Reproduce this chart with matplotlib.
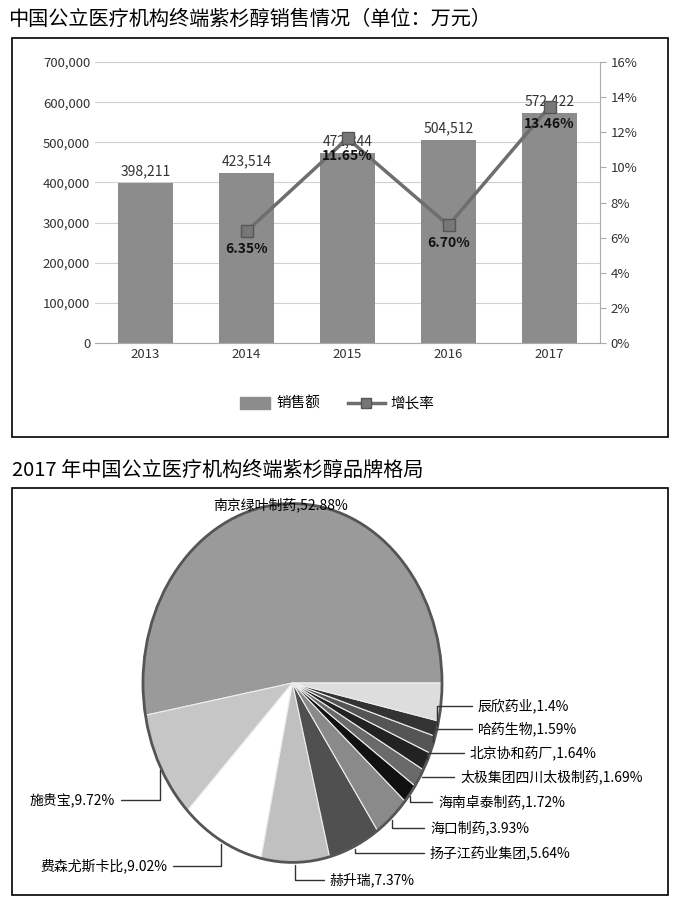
import numpy as np
import matplotlib.pyplot as plt
from matplotlib.patches import Rectangle

plt.rcParams['font.family'] = ['Noto Sans CJK SC', 'DejaVu Sans']

years = ['2013', '2014', '2015', '2016', '2017']
sales = [398211, 423514, 472844, 504512, 572422]
growth = [None, 6.35, 11.65, 6.70, 13.46]

brands = ['南京绿叶制药', '施贵宝', '费森尤斯卡比', '赫升瑞', '扬子江药业集团', '海口制药',
          '海南卓泰制药', '太极集团四川太极制药', '北京协和药厂', '哈药生物', '辰欣药业', '其他']
shares = [52.88, 9.72, 9.02, 7.37, 5.64, 3.93, 1.72, 1.69, 1.64, 1.59, 1.4, 3.4]
share_txt = ['52.88%', '9.72%', '9.02%', '7.37%', '5.64%', '3.93%', '1.72%', '1.69%', '1.64%', '1.59%', '1.4%', '']
colors = ['#9a9a9a', '#c6c6c6', '#ffffff', '#c0c0c0', '#505050', '#8a8a8a',
          '#111111', '#6a6a6a', '#222222', '#555555', '#333333', '#dddddd']

W, H = 685, 900
fig = plt.figure(figsize=(W/100, H/100), dpi=100)
fig.patch.set_facecolor('white')

def fx(px): return px / W
def fy(py): return 1 - py / H

# frames and titles
fig.add_artist(Rectangle((fx(12), fy(437)), fx(668)-fx(12), fy(38)-fy(437), transform=fig.transFigure,
                         fill=False, ec='black', lw=1.2))
fig.add_artist(Rectangle((fx(12), fy(895)), fx(668)-fx(12), fy(488)-fy(895), transform=fig.transFigure,
                         fill=False, ec='black', lw=1.2))
fig.text(fx(8), fy(19), '中国公立医疗机构终端紫杉醇销售情况（单位：万元）', fontsize=14.5, va='center')
fig.text(fx(12), fy(470), '2017 年中国公立医疗机构终端紫杉醇品牌格局', fontsize=14.5, va='center')

# bar + line chart
ax = fig.add_axes([fx(95), fy(343), fx(600)-fx(95), fy(62)-fy(343)])
x = np.arange(len(years))
ax.bar(x, sales, width=0.55, color='#8c8c8c')
ax.set_ylim(0, 700000)
ax.set_yticks(range(0, 700001, 100000))
ax.set_yticklabels(['0'] + [f'{v:,}' for v in range(100000, 700001, 100000)], fontsize=9.5, color='#333')
ax.set_xticks(x)
ax.set_xticklabels(years, fontsize=9.5, color='#333')
ax.set_xlim(-0.5, 4.5)
ax.grid(axis='y', color='#d0d0d0', lw=0.8)
ax.set_axisbelow(True)
for s in ['top', 'left', 'right']:
    ax.spines[s].set_visible(False)
ax.spines['bottom'].set_color('#aaa')
ax.tick_params(length=0)
for i, v in enumerate(sales):
    ax.text(i, v + 12000, f'{v:,}', ha='center', va='bottom', fontsize=10, color='#333')

ax2 = ax.twinx()
gx = x[1:]
gy = growth[1:]
ax2.plot(gx, gy, color='#6e6e6e', lw=2.5, marker='s', ms=8, mfc='#777', mec='#555')
ax2.set_ylim(0, 16)
ax2.set_yticks(range(0, 17, 2))
ax2.set_yticklabels([f'{v}%' for v in range(0, 17, 2)], fontsize=9.5, color='#333')
for s in ['top', 'left', 'bottom']:
    ax2.spines[s].set_visible(False)
ax2.spines['right'].set_color('#aaa')
ax2.tick_params(length=4, color='#aaa')
for xi, g in zip(gx, gy):
    ax2.text(xi, g - 0.6, f'{g:.2f}%', ha='center', va='top', fontsize=10, fontweight='bold', color='#111')

# legend
fig.add_artist(Rectangle((fx(240), fy(409)), fx(30)-fx(0), fy(397)-fy(409), transform=fig.transFigure,
                         color='#8c8c8c'))
fig.text(fx(276), fy(403), '销售额', fontsize=10.5, va='center')
fig.add_artist(plt.Line2D([fx(348), fx(385)], [fy(403), fy(403)], transform=fig.transFigure,
                          color='#6e6e6e', lw=2.5, marker='s', markevery=[0], ms=0))
fig.add_artist(plt.Line2D([fx(366)], [fy(403)], transform=fig.transFigure,
                          color='#777', marker='s', ms=7, mec='#555'))
fig.text(fx(390), fy(403), '增长率', fontsize=10.5, va='center')

# pie
axp = fig.add_axes([fx(140), fy(866), fx(445)-fx(140), fy(500)-fy(866)])
wedges, _ = axp.pie(shares, colors=colors, startangle=0, counterclock=True,
                    wedgeprops=dict(ec='#eeeeee', lw=0.8))
axp.set_aspect('auto')
axp.add_patch(plt.Circle((0, 0), 1.0, fill=False, ec='#555', lw=2))
axp.set_xlim(-1.02, 1.02)
axp.set_ylim(-1.02, 1.02)

label_pos = {
    0: (280, 505, 'center'),
    1: (30, 800, 'left'),
    2: (40, 866, 'left'),
    3: (330, 880, 'left'),
    4: (430, 853, 'left'),
    5: (430, 828, 'left'),
    6: (438, 802, 'left'),
    7: (460, 777, 'left'),
    8: (470, 753, 'left'),
    9: (478, 729, 'left'),
    10: (478, 706, 'left'),
}
for i, (px, py, ha) in label_pos.items():
    w = wedges[i]
    ang = np.deg2rad((w.theta1 + w.theta2) / 2)
    ex, ey = np.cos(ang), np.sin(ang)
    txt = f'{brands[i]},{share_txt[i]}'
    axp.annotate(txt, xy=(ex, ey), xycoords='data',
                 xytext=(fx(px), fy(py)), textcoords='figure fraction',
                 ha=ha, va='center', fontsize=10,
                 arrowprops=dict(arrowstyle='-', color='#333', lw=1,
                                 connectionstyle='angle,angleA=0,angleB=90' if i != 0 else 'arc3'))

fig.savefig('out.png', dpi=100)
